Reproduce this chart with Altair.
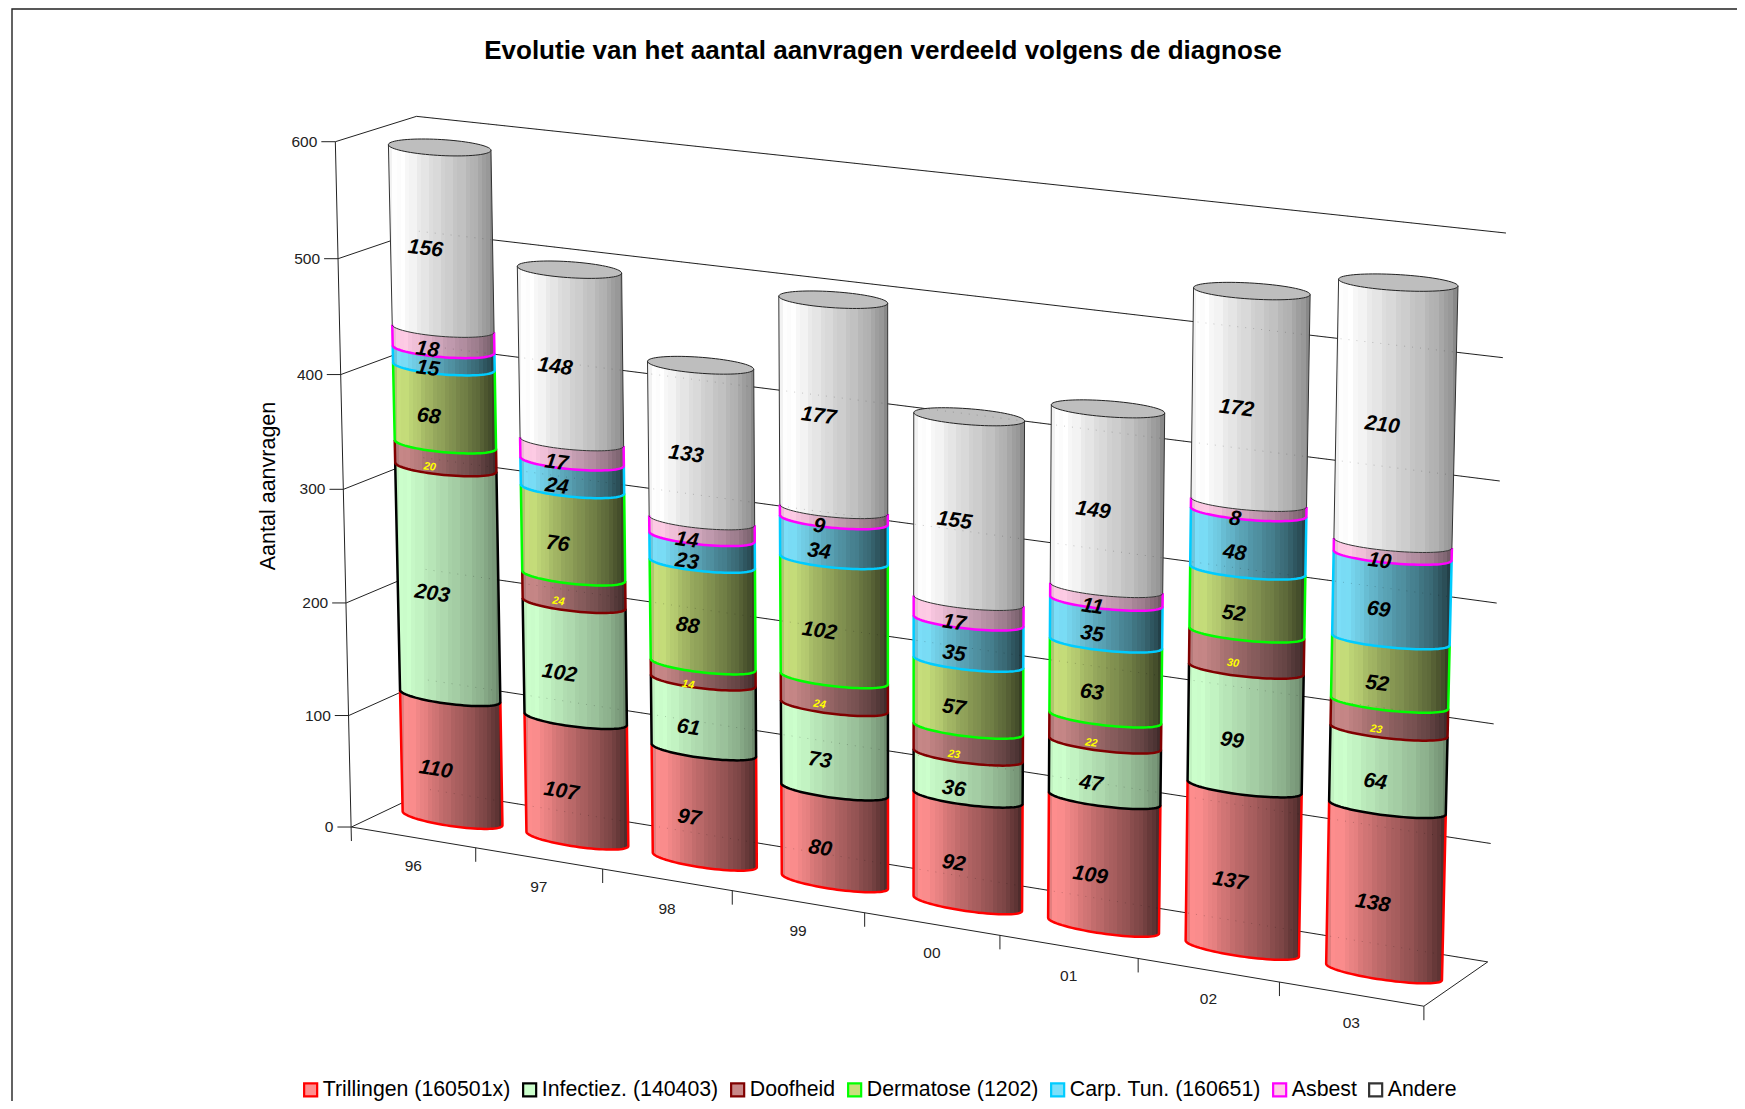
import numpy as np
import pandas as pd
import altair as alt

# ---------- chart values ----------
YEARS = ["96", "97", "98", "99", "00", "01", "02", "03"]
SERIES = ["Trillingen (160501x)", "Infectiez. (140403)", "Doofheid", "Dermatose (1202)",
          "Carp. Tun. (160651)", "Asbest", "Andere"]
TRILLINGEN = [110, 107, 97, 80, 92, 109, 137, 138]
INFECTIEZ = [203, 102, 61, 73, 36, 47, 99, 64]
DOOFHEID = [20, 24, 14, 24, 23, 22, 30, 23]
DERMATOSE = [68, 76, 88, 102, 57, 63, 52, 52]
CARP_TUN = [15, 24, 23, 34, 35, 35, 48, 69]
ASBEST = [18, 17, 14, 9, 17, 11, 8, 10]
ANDERE = [156, 148, 133, 177, 155, 149, 172, 210]
VALUES = [TRILLINGEN, INFECTIEZ, DOOFHEID, DERMATOSE, CARP_TUN, ASBEST, ANDERE]
Y_TICKS = [0, 100, 200, 300, 400, 500, 600]

TITLE = "Evolutie van het aantal aanvragen verdeeld volgens de diagnose"
Y_TITLE = "Aantal aanvragen"

FILLS = ["#FF8F8F", "#CCFFCC", "#C88888", "#C8E07C", "#7CE0FA", "#FFCCE6", "#FFFFFF"]
STROKES = ["#FF0000", "#000000", "#800000", "#00FF00", "#00CCFF", "#FF00FF", "#333333"]
STROKE_W = [2.5, 2.5, 2.5, 2.5, 2.5, 2.5, 1.0]
SHADE_POWER = [1.9, 1.0, 1.8, 2.0, 2.0, 1.3, 1.0]
FONT = "Liberation Sans"

W, H = 1729, 1093

# ---------- 3D projection: calibrated camera of the picture ----------
CAL = [
    ((0, 0, 600), (336, 142)), ((0, 0, 500), (338, 258)), ((0, 0, 400), (341, 374)),
    ((0, 0, 300), (344, 489)), ((0, 0, 200), (346, 602)), ((0, 0, 100), (349, 715)),
    ((0, 0, 0), (352, 827)),
    ((0, 1, 600), (416, 116)), ((0, 1, 0), (431, 788)),
    ((1, 0, 0), (1424, 1006)), ((1, 1, 0), (1487, 962)),
    ((1, 1, 600), (1506, 234)), ((1, 1, 500), (1503, 358)), ((1, 1, 400), (1500, 481)),
    ((1, 1, 300), (1497, 603)), ((1, 1, 200), (1494, 723)), ((1, 1, 100), (1491, 842)),
    ((1 / 8, 0, 0), (476, 848)), ((2 / 8, 0, 0), (602, 869)), ((3 / 8, 0, 0), (732, 891)),
    ((4 / 8, 0, 0), (865, 913)), ((5 / 8, 0, 0), (999, 935)), ((6 / 8, 0, 0), (1138, 958)),
    ((7 / 8, 0, 0), (1280, 982)),
    ((1 / 16, .5, 0), (452, 819.5)), ((1 / 16, .5, 590), (439, 148)), ((1 / 16, .5, 110), (449.5, 699)),
    ((15 / 16, .5, 0), (1384, 973.5)), ((15 / 16, .5, 566), (1398, 282.5)),
]
rows = []
for (u, w, h), (sx, sy) in CAL:
    X = [u, w, h / 600, 1]
    sx, sy = sx / 1000, sy / 1000
    rows.append(X + [0, 0, 0, 0] + [-sx * v for v in X])
    rows.append([0, 0, 0, 0] + X + [-sy * v for v in X])
M = np.linalg.svd(np.array(rows))[2][-1].reshape(3, 4)


def P(u, w, h):
    r = M @ np.array([u, w, h / 600, 1.0])
    return r[0] / r[2] * 1000, r[1] / r[2] * 1000


RU = 0.0505   # cylinder half width along the year axis
RB = 8.0      # cylinder ellipse half height
NARC = 40
LABEL_DROP = 5


def arc(i, h, back=False):
    uc = (i + .5) / 8
    cx, cy = P(uc, .5, h)
    lx, ly = P(uc - RU, .5, h)
    rx, ry = P(uc + RU, .5, h)
    ax, ay = (rx - lx) / 2, (ry - ly) / 2
    ay *= .85 - .35 * h / 590     # the picture's ellipses flatten with height
    t = np.linspace(0, np.pi, NARC)
    sgn = -1 if back else 1
    return cx - np.cos(t) * ax, cy - np.cos(t) * ay + sgn * RB * np.sin(t)


def scan(px, py):
    px = np.asarray(px); py = np.asarray(py)
    xs = np.unique(np.round(px, 2))
    out = []
    n = len(px)
    for x in xs:
        ys = []
        for k in range(n):
            x0, y0, x1, y1 = px[k], py[k], px[(k + 1) % n], py[(k + 1) % n]
            lo, hi = min(x0, x1) - .006, max(x0, x1) + .006
            if lo <= x <= hi:
                if abs(x1 - x0) < 1e-6:
                    ys += [y0, y1]
                else:
                    f = min(1, max(0, (x - x0) / (x1 - x0)))
                    ys.append(y0 + f * (y1 - y0))
        out.append((x, min(ys), max(ys)))
    return out


# ---------- tables ----------
area_rows, line_rows, cap_rows, capline_rows, label_rows = [], [], [], [], []
for i, yr in enumerate(YEARS):
    base = 0
    for s, name in enumerate(SERIES):
        v = VALUES[s][i]
        top = base + v
        bx, by = arc(i, base)
        tx, ty = arc(i, top)
        px = np.r_[tx, bx[::-1]]
        py = np.r_[ty, by[::-1]]
        for x, y0, y1 in scan(px, py):
            area_rows.append(dict(s=s, cat=i, x=x, y=y0, y2=y1))
        ux = np.r_[tx[0], bx, tx[-1]]
        uy = np.r_[ty[0], by, ty[-1]]
        for o, (x, y) in enumerate(zip(ux, uy)):
            line_rows.append(dict(s=s, cat=i, o=o, x=x, y=y))
        mid = (base + top) / 2
        lx, ly = P((i + .5) / 8, .3, mid)
        x0, y0 = P((i + .5) / 8 - .02, .3, mid)
        x1, y1 = P((i + .5) / 8 + .02, .3, mid)
        ang = float(np.degrees(np.arctan2(y1 - y0, x1 - x0)))
        label_rows.append(dict(s=s, x=lx, y=ly + LABEL_DROP, ang=ang, t=str(v),
                               small=(s == 2)))
        base = top
    fx, fy = arc(i, base)
    bx, by = arc(i, base, back=True)
    px = np.r_[fx, bx[::-1]]
    py = np.r_[fy, by[::-1]]
    for x, y0, y1 in scan(px, py):
        cap_rows.append(dict(cat=i, x=x, y=y0, y2=y1))
    for o, (x, y) in enumerate(zip(px, py)):
        capline_rows.append(dict(cat=i, o=o, x=x, y=y))
    capline_rows.append(dict(cat=i, o=len(px), x=px[0], y=py[0]))

wall_rows, dot_rows = [], []
gid = 0


def seg(a, b, target=wall_rows):
    global gid
    target.append(dict(g=gid, o=0, x=a[0], y=a[1]))
    target.append(dict(g=gid, o=1, x=b[0], y=b[1]))
    gid += 1


for h in Y_TICKS:
    seg(P(0, 0, h), P(0, 1, h))
    seg(P(0, 1, h), P(1, 1, h))
    seg(P(0, 1, h), P(1, 1, h), dot_rows)
    a = P(0, 0, h)
    seg(a, (a[0] - 14, a[1]))
a = P(0, 0, 0)
seg(P(0, 0, 600), (a[0], a[1] + 14))
seg(P(0, 0, 0), P(1, 0, 0))
seg(P(1, 0, 0), P(1, 1, 0))
for k in range(1, 9):
    a = P(k / 8, 0, 0)
    seg(a, (a[0], a[1] + 14))

ytick_rows = []
for h in Y_TICKS:
    a = P(0, 0, h)
    ytick_rows.append(dict(x=a[0] - 18, y=a[1], t=str(h)))
xtick_rows = []
for i, yr in enumerate(YEARS):
    a = P((i + .5) / 8, 0, 0)
    xtick_rows.append(dict(x=a[0], y=a[1] + 29, t=yr))

# ---------- encodings ----------
X = alt.X("x:Q", scale=alt.Scale(domain=[8, 8 + W], range=[0, W], nice=False, zero=False), axis=None)
Y = alt.Y("y:Q", scale=alt.Scale(domain=[8, 8 + H], range=[0, H], nice=False, zero=False), axis=None)
Y2 = alt.Y2("y2:Q")

SHADE_AT = [0, .06, .18, .35, .5, .7, .85, .97, 1]
SHADE_GRAY = [.90, 1, .97, .89, .83, .75, .67, .56, .5]


def shade(hexc, power):
    r, g, b = [int(hexc[j:j + 2], 16) for j in (1, 3, 5)]
    stops = []
    n = 26
    for k in range(n):
        f0, f1 = k / n, (k + 1) / n
        m = float(np.interp((f0 + f1) / 2, SHADE_AT, SHADE_GRAY)) ** power
        m *= 1.02 if k % 3 == 0 else 1.0
        c = "#%02X%02X%02X" % tuple(min(255, int(v * m)) for v in (r, g, b))
        stops += [alt.GradientStop(color=c, offset=f0), alt.GradientStop(color=c, offset=f1)]
    return alt.Gradient(gradient="linear", stops=stops, x1=0, x2=1, y1=0, y2=0)


layers = []

border = pd.DataFrame([dict(o=0, x=12, y=1101), dict(o=1, x=12, y=9), dict(o=2, x=1737, y=9)])
layers.append(alt.Chart(border).mark_line(color="#222222", strokeWidth=1.4).encode(X, Y, order="o:Q"))

layers.append(alt.Chart(pd.DataFrame(wall_rows)).mark_line(color="#222222", strokeWidth=1).encode(
    X, Y, detail="g:N", order="o:Q"))

area_df = pd.DataFrame(area_rows)
line_df = pd.DataFrame(line_rows)
for s in range(len(SERIES)):
    layers.append(alt.Chart(area_df[area_df.s == s]).mark_area(
        color=shade(FILLS[s], SHADE_POWER[s]), interpolate="linear").encode(X, Y, Y2, detail="cat:N"))

layers.append(alt.Chart(pd.DataFrame(cap_rows)).mark_area(color="#BEBEBE").encode(X, Y, Y2, detail="cat:N"))
layers.append(alt.Chart(pd.DataFrame(dot_rows)).mark_line(
    color="#000000", strokeWidth=1, strokeDash=[1, 7], opacity=.2).encode(X, Y, detail="g:N", order="o:Q"))

for s in range(len(SERIES)):
    layers.append(alt.Chart(line_df[line_df.s == s]).mark_line(
        color=STROKES[s], strokeWidth=STROKE_W[s]).encode(X, Y, detail="cat:N", order="o:Q"))
layers.append(alt.Chart(pd.DataFrame(capline_rows)).mark_line(color="#222222", strokeWidth=1).encode(
    X, Y, detail="cat:N", order="o:Q"))

lab = pd.DataFrame(label_rows)
ANGLE = alt.Angle("ang:Q", scale=None)
layers.append(alt.Chart(lab[~lab.small]).mark_text(
    font=FONT, fontSize=21, fontWeight="bold", fontStyle="italic", color="#000000", baseline="middle", align="center"
).encode(X, Y, angle=ANGLE, text="t:N"))
layers.append(alt.Chart(lab[lab.small]).mark_text(
    font=FONT, fontSize=11, fontWeight="bold", fontStyle="italic", color="#FFFF00", baseline="middle", align="center"
).encode(X, Y, angle=ANGLE, text="t:N"))

layers.append(alt.Chart(pd.DataFrame(ytick_rows)).mark_text(
    font=FONT, fontSize=15.5, color="#222222", align="right", baseline="middle").encode(X, Y, text="t:N"))
layers.append(alt.Chart(pd.DataFrame(xtick_rows)).mark_text(
    font=FONT, fontSize=15.5, color="#222222", align="center", baseline="middle").encode(X, Y, text="t:N"))

layers.append(alt.Chart(pd.DataFrame([dict(x=883, y=51, t=TITLE)])).mark_text(
    font=FONT, fontSize=26, fontWeight="bold", color="#000000", align="center", baseline="middle").encode(X, Y, text="t:N"))
layers.append(alt.Chart(pd.DataFrame([dict(x=269, y=486, t=Y_TITLE)])).mark_text(
    font=FONT, fontSize=21.5, color="#000000", align="center", baseline="middle", angle=270).encode(X, Y, text="t:N"))

# legend: a real Vega legend fed by marks lying outside the canvas
LEG = dict(title=None, orient="none", legendX=292, legendY=1071, direction="horizontal", columns=7,
           symbolType="square", symbolSize=170, symbolStrokeWidth=2.2, labelFont=FONT, labelFontSize=21.3,
           labelColor="#000000", symbolOpacity=1, columnPadding=7, labelOffset=1.5, padding=0, labelLimit=400)
leg = pd.DataFrame(dict(x=[-200.0] * 7, y=[-200.0] * 7, name=SERIES))
layers.append(alt.Chart(leg).mark_square(filled=True, size=100, strokeWidth=2).encode(
    X, Y,
    fill=alt.Fill("name:N", scale=alt.Scale(domain=SERIES, range=FILLS), legend=alt.Legend(**LEG)),
    stroke=alt.Stroke("name:N", scale=alt.Scale(domain=SERIES, range=STROKES), legend=alt.Legend(**LEG)),
))

chart = alt.layer(*layers).properties(
    width=W, height=H, padding=0, autosize=alt.AutoSizeParams(type="none")
).configure_view(stroke=None)

chart.save("out.html", embed_options={"renderer": "svg", "actions": False})
